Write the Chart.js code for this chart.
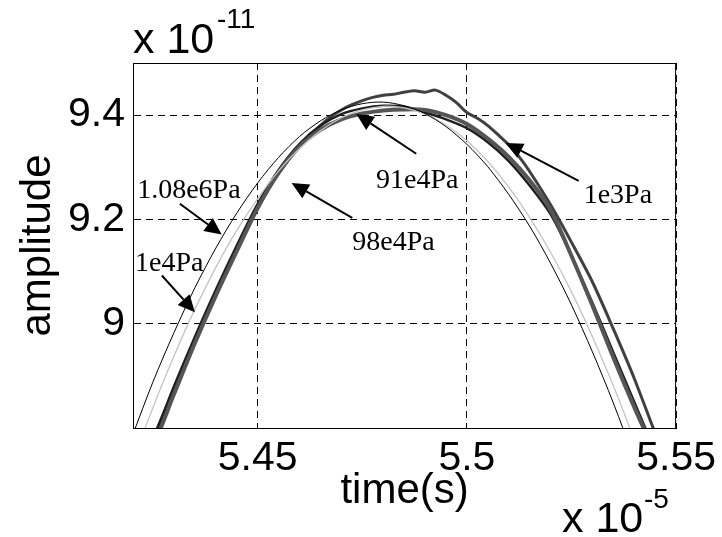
<!DOCTYPE html>
<html>
<head>
<meta charset="utf-8">
<script src="https://cdn.jsdelivr.net/npm/chart.js@4"></script>
<style>
  html, body { margin: 0; padding: 0; background: #fff; }
  #wrap { width: 722px; height: 537px; }
</style>
</head>
<body>
<div id="wrap"><canvas id="ampChart" width="722" height="537"></canvas></div>
<script>
// time axis (x 10^-5 s) and amplitudes (x 10^-11)
const times = [5.420, 5.425, 5.430, 5.435, 5.440, 5.445, 5.450, 5.455, 5.460, 5.465, 5.470, 5.475, 5.480,
               5.485, 5.490, 5.495, 5.500, 5.505, 5.510, 5.515, 5.520, 5.525, 5.530, 5.535, 5.540, 5.545, 5.550];

const amp108e6 = [8.784, 8.889, 8.983, 9.069, 9.145, 9.212, 9.270, 9.319, 9.359, 9.389, 9.410, 9.422, 9.425,
                  9.418, 9.403, 9.378, 9.344, 9.301, 9.248, 9.187, 9.116, 9.036, 8.946, 8.848, 8.740, 8.624, 8.498];
const amp1e4 = [8.732, 8.840, 8.938, 9.028, 9.108, 9.179, 9.240, 9.293, 9.336, 9.370, 9.395, 9.410, 9.417,
                9.414, 9.402, 9.381, 9.351, 9.311, 9.262, 9.204, 9.137, 9.061, 8.975, 8.881, 8.777, 8.663, 8.541];
const amp98e4 = [8.700, 8.766, 8.865, 8.963, 9.054, 9.139, 9.222, 9.290, 9.340, 9.372, 9.392, 9.403, 9.409,
                 9.411, 9.410, 9.400, 9.383, 9.355, 9.320, 9.275, 9.218, 9.130, 9.035, 8.935, 8.840, 8.750, 8.650];
const amp91e4 = [8.710, 8.780, 8.880, 8.975, 9.065, 9.150, 9.230, 9.295, 9.345, 9.380, 9.402, 9.413, 9.418,
                 9.416, 9.405, 9.392, 9.375, 9.348, 9.312, 9.265, 9.210, 9.130, 9.040, 8.945, 8.850, 8.755, 8.660];

// the 1e3Pa trace is wavy near the top, so it has its own finer time points
const times1e3 = [5.420, 5.425, 5.430, 5.435, 5.440, 5.445, 5.450, 5.455, 5.460, 5.465, 5.4675, 5.470, 5.4725,
                  5.475, 5.4775, 5.480, 5.4825, 5.485, 5.4875, 5.490, 5.4925, 5.495, 5.4975, 5.500, 5.5025, 5.505,
                  5.5075, 5.510, 5.5125, 5.515, 5.520, 5.525, 5.530, 5.535, 5.540, 5.545, 5.550];
const amp1e3 = [8.680, 8.780, 8.875, 8.970, 9.060, 9.145, 9.222, 9.288, 9.340, 9.380, 9.397, 9.410, 9.420,
                9.428, 9.434, 9.438, 9.440, 9.444, 9.447, 9.444, 9.448, 9.438, 9.424, 9.405, 9.394, 9.380,
                9.362, 9.343, 9.320, 9.292, 9.228, 9.156, 9.080, 8.990, 8.895, 8.790, 8.690];

const xTicks = [5.45, 5.5, 5.55];
const xTickLabels = ['5.45', '5.5', '5.55'];
const yTicks = [9.0, 9.2, 9.4];
const yTickLabels = ['9', '9.2', '9.4'];

// labels with arrows, in data units: [text, textX, textY, tailX, tailY, tipX, tipY]
const notes = [
  ['1.08e6Pa', 5.4212, 9.2417, 5.4314, 9.2302, 5.4414, 9.1709],
  ['1e4Pa',    5.4207, 9.1020, 5.4271, 9.0925, 5.4350, 9.0218],
  ['98e4Pa',   5.4726, 9.1418, 5.4726, 9.2032, 5.4581, 9.2700],
  ['91e4Pa',   5.4783, 9.2608, 5.4879, 9.3259, 5.4736, 9.4023],
  ['1e3Pa',    5.5279, 9.2319, 5.5267, 9.2741, 5.5093, 9.3468]
];

const pts = (xs, ys) => xs.map((x, i) => ({ x: x, y: ys[i] }));

const extras = {
  id: 'extras',
  afterDraw(chart) {
    const ctx = chart.ctx;
    const a = chart.chartArea;
    const sx = chart.scales.x, sy = chart.scales.y;
    ctx.save();
    ctx.strokeStyle = '#000';
    ctx.lineWidth = 1;
    ctx.strokeRect(a.left + 0.5, a.top + 0.5, a.right - a.left - 1, a.bottom - a.top);

    // arrows and labels
    ctx.fillStyle = '#000';
    ctx.font = '28px "Liberation Serif", "Times New Roman", serif';
    ctx.textAlign = 'left';
    ctx.textBaseline = 'alphabetic';
    notes.forEach(n => {
      ctx.fillText(n[0], sx.getPixelForValue(n[1]), sy.getPixelForValue(n[2]));
      const x0 = sx.getPixelForValue(n[3]), y0 = sy.getPixelForValue(n[4]);
      const x1 = sx.getPixelForValue(n[5]), y1 = sy.getPixelForValue(n[6]);
      const ang = Math.atan2(y1 - y0, x1 - x0);
      const hl = 17, hw = 8;
      const bx = x1 - hl * Math.cos(ang), by = y1 - hl * Math.sin(ang);
      ctx.lineWidth = 2;
      ctx.beginPath();
      ctx.moveTo(x0, y0);
      ctx.lineTo(bx, by);
      ctx.stroke();
      ctx.beginPath();
      ctx.moveTo(x1, y1);
      ctx.lineTo(bx + hw * Math.sin(ang), by - hw * Math.cos(ang));
      ctx.lineTo(bx - hw * Math.sin(ang), by + hw * Math.cos(ang));
      ctx.closePath();
      ctx.fill();
    });

    // exponent labels
    ctx.font = '43px "Liberation Sans", Arial, sans-serif';
    ctx.fillText('x 10', 133, 53);
    ctx.fillText('x 10', 562, 532);
    ctx.font = '28px "Liberation Sans", Arial, sans-serif';
    ctx.fillText('-11', 217, 28);
    ctx.fillText('-5', 644, 508);
    ctx.restore();
  }
};

const ctx = document.getElementById('ampChart').getContext('2d');
const ampChart = new Chart(ctx, {
  type: 'line',
  data: {
    datasets: [
      { label: '1.08e6Pa', data: pts(times, amp108e6), borderColor: '#000000', borderWidth: 1 },
      { label: '1e4Pa', data: pts(times, amp1e4), borderColor: '#c4c4c4', borderWidth: 1.3 },
      { label: '98e4Pa', data: pts(times, amp98e4), borderColor: '#555555', borderWidth: 4 },
      { label: '91e4Pa', data: pts(times, amp91e4), borderColor: '#1e1e1e', borderWidth: 2.5 },
      { label: '1e3Pa', data: pts(times1e3, amp1e3), borderColor: '#404040', borderWidth: 3 }
    ]
  },
  options: {
    responsive: false,
    animation: false,
    parsing: false,
    elements: { point: { radius: 0 }, line: { tension: 0.3, fill: false } },
    layout: { padding: { top: 63, right: 45, left: 0, bottom: 0 } },
    plugins: { legend: { display: false }, tooltip: { enabled: false } },
    scales: {
      x: {
        type: 'linear',
        min: 5.4202,
        max: 5.55,
        afterFit: s => { s.height = 109; },
        afterBuildTicks: s => { s.ticks = xTicks.map(v => ({ value: v })); },
        ticks: {
          autoSkip: false,
          maxRotation: 0,
          padding: 6,
          color: '#000',
          font: { family: '"Liberation Sans", Arial, sans-serif', size: 41 },
          callback: (v) => xTickLabels[xTicks.indexOf(v)]
        },
        grid: { color: '#000', lineWidth: 1, drawTicks: false },
        border: { display: true, color: '#000', dash: [7, 5] },
        title: {
          display: true,
          text: 'time(s)',
          color: '#000',
          font: { family: '"Liberation Sans", Arial, sans-serif', size: 42 },
          padding: { top: 0, bottom: 20 }
        }
      },
      y: {
        type: 'linear',
        min: 8.8,
        max: 9.5,
        afterFit: s => { s.width = 133; },
        afterBuildTicks: s => { s.ticks = yTicks.map(v => ({ value: v })); },
        ticks: {
          padding: 8,
          color: '#000',
          font: { family: '"Liberation Sans", Arial, sans-serif', size: 41 },
          callback: (v) => yTickLabels[yTicks.indexOf(v)]
        },
        grid: { color: '#000', lineWidth: 1, drawTicks: false },
        border: { display: true, color: '#000', dash: [7, 5] },
        title: {
          display: true,
          text: 'amplitude',
          color: '#000',
          font: { family: '"Liberation Sans", Arial, sans-serif', size: 42 },
          padding: { top: 13, bottom: 0 }
        }
      }
    }
  },
  plugins: [extras]
});
</script>
</body>
</html>
